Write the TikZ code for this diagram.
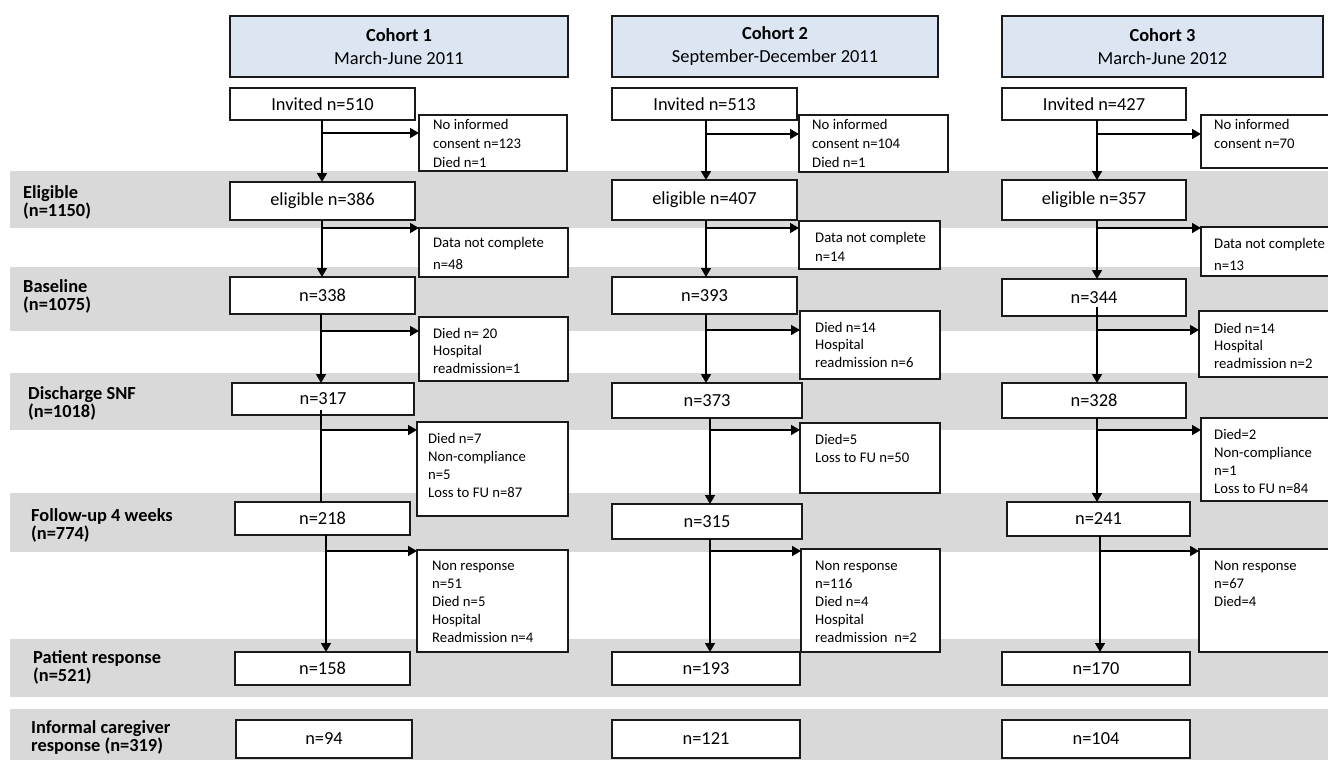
\documentclass[tikz,border=0pt]{standalone}
\usepackage{fontspec}
\setmainfont{Carlito}
\usetikzlibrary{arrows.meta}
\definecolor{bandgray}{HTML}{D9D9D9}
\definecolor{headblue}{HTML}{DCE6F2}
\definecolor{edgecol}{HTML}{1A1A1A}
\tikzset{
  box/.style={draw=edgecol, line width=1.1pt, fill=white, inner sep=0pt, outer sep=0pt, rectangle},
  mainbox/.style={box, font=\fontsize{18.4}{22}\selectfont},
  headbox/.style={box, fill=headblue, align=center, font=\fontsize{18.4}{23}\selectfont},
  exctext/.style={inner sep=0pt, anchor=north west, align=left},
  rowlabel/.style={inner sep=0pt, anchor=north west, align=left, font=\bfseries\fontsize{18.4}{18}\selectfont},
  arr/.style={draw=black, line width=1.6pt, -{Triangle[length=9pt,width=10pt]}},
  plainline/.style={draw=black, line width=1.6pt},
  band/.style={fill=bandgray}
}
\newcommand\MyBox[7]{\node[#1, minimum width={#5-#3}, minimum height={#6-#4}] (#2) at ({(#3+#5)/2},{(#4+#6)/2}) {#7};}
\newcommand\ExcFont[1]{\fontsize{14.7}{#1}\selectfont}
\begin{document}
\begin{tikzpicture}[x=1pt,y=-1pt]
\useasboundingbox (0,0) rectangle (1328,760);
\fill[white] (0,0) rectangle (1328,760);
% bands
\fill[band] (10,171) rectangle (1328,228);
\fill[band] (10,267) rectangle (1328,331);
\fill[band] (10,373) rectangle (1328,430);
\fill[band] (10,493) rectangle (1328,552);
\fill[band] (10,639) rectangle (1328,697);
\fill[band] (10,709) rectangle (1328,760);
% row labels
\node[rowlabel] (L1) at (23,185) {Eligible\\(n=1150)};
\node[rowlabel] (L2) at (23,279) {Baseline\\(n=1075)};
\node[rowlabel] (L3) at (28,386) {Discharge SNF\\(n=1018)};
\node[rowlabel] (L4) at (31,508) {Follow-up 4 weeks\\(n=774)};
\node[rowlabel] (L5) at (33,650) {Patient response\\(n=521)};
\node[rowlabel] (L6) at (31,720) {Informal caregiver\\response (n=319)};
% headers
\MyBox{headbox}{H1}{230}{16}{568}{77}{\textbf{Cohort 1}\\March-June 2011}
\MyBox{headbox}{H2}{612}{16}{938}{77}{\textbf{Cohort 2}\\September-December 2011}
\MyBox{headbox}{H3}{1002}{16}{1323}{77}{\textbf{Cohort 3}\\March-June 2012}
% main boxes cohort 1
\MyBox{mainbox}{inv1}{230}{88}{415}{120}{Invited n=510}
\MyBox{mainbox}{eli1}{230}{182}{415}{220}{eligible n=386}
\MyBox{mainbox}{bas1}{230}{277}{415}{314}{n=338}
\MyBox{mainbox}{dis1}{232}{383}{414}{415}{n=317}
\MyBox{mainbox}{fu1}{235}{502}{410}{535}{n=218}
\MyBox{mainbox}{pat1}{235}{652}{410}{685}{n=158}
\MyBox{mainbox}{inf1}{236}{720}{412}{758}{n=94}
% main boxes cohort 2
\MyBox{mainbox}{inv2}{612}{88}{797}{120}{Invited n=513}
\MyBox{mainbox}{eli2}{612}{180}{797}{220}{eligible n=407}
\MyBox{mainbox}{bas2}{612}{277}{797}{314}{n=393}
\MyBox{mainbox}{dis2}{612}{383}{802}{418}{n=373}
\MyBox{mainbox}{fu2}{612}{504}{802}{539}{n=315}
\MyBox{mainbox}{pat2}{612}{652}{800}{685}{n=193}
\MyBox{mainbox}{inf2}{612}{720}{800}{758}{n=121}
% main boxes cohort 3
\MyBox{mainbox}{inv3}{1002}{88}{1186}{120}{Invited n=427}
\MyBox{mainbox}{eli3}{1002}{180}{1186}{220}{eligible n=357}
\MyBox{mainbox}{bas3}{1002}{279}{1186}{316}{n=344}
\MyBox{mainbox}{dis3}{1002}{383}{1186}{418}{n=328}
\MyBox{mainbox}{fu3}{1007}{502}{1190}{536}{n=241}
\MyBox{mainbox}{pat3}{1002}{652}{1190}{685}{n=170}
\MyBox{mainbox}{inf3}{1002}{720}{1190}{758}{n=104}
% exclusion boxes cohort 1
\MyBox{box}{A1}{419}{115}{567}{171}{}
\MyBox{box}{B1}{419}{228}{568}{277}{}
\MyBox{box}{C1}{419}{317}{568}{381}{}
\MyBox{box}{D1}{417}{422}{568}{516}{}
\MyBox{box}{E1}{417}{550}{568}{652}{}
% exclusion boxes cohort 2
\MyBox{box}{A2}{799}{115}{948}{172}{}
\MyBox{box}{B2}{799}{221}{940}{269}{}
\MyBox{box}{C2}{800}{311}{940}{379}{}
\MyBox{box}{D2}{800}{423}{940}{493}{}
\MyBox{box}{E2}{801}{549}{940}{652}{}
% exclusion boxes cohort 3
\MyBox{box}{A3}{1201}{115}{1335}{168}{}
\MyBox{box}{B3}{1201}{227}{1335}{276}{}
\MyBox{box}{C3}{1199}{311}{1335}{377}{}
\MyBox{box}{D3}{1201}{418}{1335}{501}{}
\MyBox{box}{E3}{1199}{549}{1335}{652}{}
% exclusion texts
\node[exctext, font=\ExcFont{19}] (A1t) at (433,119) {No informed\\consent n=123\\Died n=1};
\node[exctext, font=\ExcFont{22}] (B1t) at (433,237) {Data not complete\\n=48};
\node[exctext, font=\ExcFont{17.5}] (C1t) at (433,328) {Died n= 20\\Hospital\\readmission=1};
\node[exctext, font=\ExcFont{18}] (D1t) at (428,433) {Died n=7\\Non-compliance\\n=5\\Loss to FU n=87};
\node[exctext, font=\ExcFont{18}] (E1t) at (432,561) {Non response\\n=51\\Died n=5\\Hospital\\Readmission n=4};
\node[exctext, font=\ExcFont{19}] (A2t) at (812,119) {No informed\\consent n=104\\Died n=1};
\node[exctext, font=\ExcFont{19}] (B2t) at (815,232) {Data not complete\\n=14};
\node[exctext, font=\ExcFont{17.5}] (C2t) at (815,322) {Died n=14\\Hospital\\readmission n=6};
\node[exctext, font=\ExcFont{18}] (D2t) at (815,434) {Died=5\\Loss to FU n=50};
\node[exctext, font=\ExcFont{18}] (E2t) at (815,561) {Non response\\n=116\\Died n=4\\Hospital\\readmission\ \ n=2};
\node[exctext, font=\ExcFont{19}] (A3t) at (1214,119) {No informed\\consent n=70};
\node[exctext, font=\ExcFont{22}] (B3t) at (1214,238) {Data not complete\\n=13};
\node[exctext, font=\ExcFont{17.5}] (C3t) at (1214,323) {Died n=14\\Hospital\\readmission n=2};
\node[exctext, font=\ExcFont{18}] (D3t) at (1214,429) {Died=2\\Non-compliance\\n=1\\Loss to FU n=84};
\node[exctext, font=\ExcFont{18}] (E3t) at (1214,561) {Non response\\n=67\\Died=4};
% vertical flow cohort 1
\draw[arr] ([xshift=-0.5pt]inv1.south) -- ([xshift=-0.5pt]inv1.south |- eli1.north);
\draw[arr] ([xshift=-0.5pt]eli1.south) -- ([xshift=-0.5pt]eli1.south |- bas1.north);
\draw[arr] ([xshift=-1.5pt]bas1.south) -- ([xshift=-1.5pt]bas1.south |- dis1.north);
\draw[plainline] ([xshift=-2pt,yshift=5pt]dis1.south) -- ([xshift=-2pt]dis1.south |- fu1.north);
\draw[arr] ([xshift=3.5pt]fu1.south) -- ([xshift=3.5pt]fu1.south |- pat1.north);
% vertical flow cohort 2
\draw[arr] ([xshift=1.5pt]inv2.south) -- ([xshift=1.5pt]inv2.south |- eli2.north);
\draw[arr] ([xshift=1.5pt]eli2.south) -- ([xshift=1.5pt]eli2.south |- bas2.north);
\draw[arr] ([xshift=1.5pt]bas2.south) -- ([xshift=1.5pt]bas2.south |- dis2.north);
\draw[arr] ([xshift=3pt]dis2.south) -- ([xshift=3pt]dis2.south |- fu2.north);
\draw[arr] ([xshift=3pt]fu2.south) -- ([xshift=3pt]fu2.south |- pat2.north);
% vertical flow cohort 3
\draw[arr] ([xshift=3pt]inv3.south) -- ([xshift=3pt]inv3.south |- eli3.north);
\draw[arr] ([xshift=3pt]eli3.south) -- ([xshift=3pt]eli3.south |- bas3.north);
\draw[arr] ([xshift=3pt,yshift=9pt]bas3.south) -- ([xshift=3pt]bas3.south |- dis3.north);
\draw[arr] ([xshift=3pt]dis3.south) -- ([xshift=3pt]dis3.south |- fu3.north);
\draw[arr] ([xshift=1.5pt]fu3.south) -- ([xshift=1.5pt]fu3.south |- pat3.north);
% branch points
\coordinate (ha1) at (322,133);
\coordinate (hb1) at (322,228);
\coordinate (hc1) at (321,331);
\coordinate (hd1) at (321,430);
\coordinate (he1) at (326,551);
\coordinate (ha2) at (706,134);
\coordinate (hb2) at (706,228);
\coordinate (hc2) at (706,330);
\coordinate (hd2) at (710,430);
\coordinate (he2) at (710,551);
\coordinate (ha3) at (1097,134);
\coordinate (hb3) at (1097,228);
\coordinate (hc3) at (1097,330);
\coordinate (hd3) at (1097,430);
\coordinate (he3) at (1100,551);
\foreach \c/\t in {ha1/A1,hb1/B1,hc1/C1,hd1/D1,he1/E1,ha2/A2,hb2/B2,hc2/C2,hd2/D2,he2/E2,ha3/A3,hb3/B3,hc3/C3,hd3/D3,he3/E3}
  \draw[arr] (\c) -- (\c -| \t.west);
\end{tikzpicture}
\end{document}
